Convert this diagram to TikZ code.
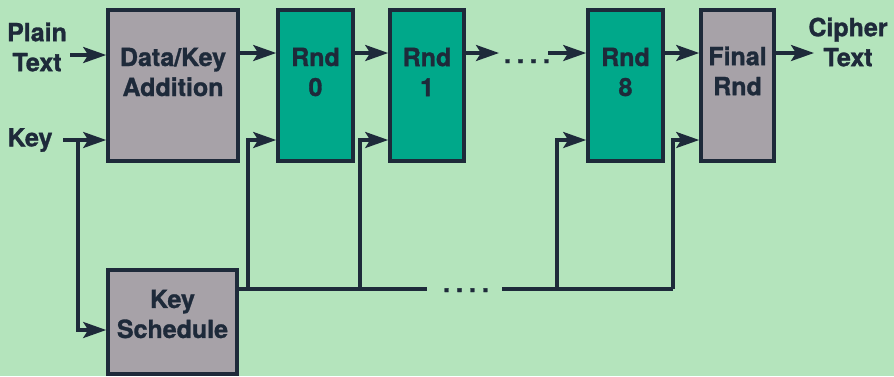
\documentclass[tikz,border=0pt]{standalone}
\usepackage{fontspec}
\setmainfont{TeX Gyre Heros}
\newfontfamily\heavyfont[FakeBold=1.2]{TeX Gyre Heros Bold}
\usetikzlibrary{arrows.meta}
\definecolor{bg}{HTML}{B4E4BC}
\definecolor{ink}{HTML}{1E2A3A}
\definecolor{greybox}{HTML}{A7A2A8}
\definecolor{tealbox}{HTML}{00A88A}
\newcommand{\spacedots}{.\hspace{6pt}.\hspace{6pt}.\hspace{6pt}.}
\begin{document}
\begin{tikzpicture}[x=1pt,y=-1pt,
  box/.style={draw=ink,line width=3.6pt,inner sep=0pt,minimum height=151pt},
  greyblk/.style={box,fill=greybox},
  roundblk/.style={box,fill=tealbox},
  lbl/.style={text=ink,font=\fontsize{25}{30}\selectfont\heavyfont,align=center,inner sep=0pt},
  wire/.style={draw=ink,line width=3.3pt},
  arr/.style={wire,-{Stealth[length=23pt,width=16pt,inset=5pt]}},
]
\fill[bg] (0,0) rectangle (894,376);
\useasboundingbox (0,0) rectangle (894,376);

% blocks of the cipher
\node[greyblk,minimum width=130pt] (dk) at (173,85.5) {};
\node[roundblk,minimum width=75pt] (r0) at (315.5,85.5) {};
\node[roundblk,minimum width=74pt] (r1) at (427,85.5) {};
\node[roundblk,minimum width=75pt] (r8) at (625.5,85.5) {};
\node[greyblk,minimum width=73pt] (fin) at (737.5,85.5) {};
\node[greyblk,minimum width=129pt,minimum height=104pt] (ks) at (172.5,322) {};

% block labels
\node[lbl] (dkt) at (173,72) {Data/Key\\Addition};
\node[lbl] (r0t) at (315.5,72) {Rnd\\0};
\node[lbl] (r1t) at (427,72) {Rnd\\1};
\node[lbl] (r8t) at (625.5,72) {Rnd\\8};
\node[lbl] (fint) at (737.5,71) {Final\\Rnd};
\node[lbl] (kst) at (172.5,314) {Key\\Schedule};

% inputs and output
\node[lbl] (pt) at (37,47) {Plain\\Text};
\node[lbl] (key) at (30,140) {Key};
\node[lbl] (ct) at (848,42) {Cipher\\Text};

% data path
\coordinate (ptin) at (70,55);
\draw[arr] (ptin) -- (dk.west |- ptin);
\draw[arr] ([yshift=32.5pt]dk.east) -- ([yshift=32.5pt]r0.west);
\draw[arr] ([yshift=32.5pt]r0.east) -- ([yshift=32.5pt]r1.west);
\coordinate (dl) at (499,53);
\coordinate (dr) at (548,53);
\node[lbl,anchor=base] (dots1) at (527,63) {\spacedots};
\draw[arr] ([yshift=32.5pt]r1.east) -- (dl);
\draw[arr] (dr) -- ([yshift=32.5pt]r8.west);
\draw[arr] ([yshift=32.5pt]r8.east) -- ([yshift=32.5pt]fin.west);
\coordinate (ctin) at (814,53);
\draw[arr] ([yshift=32.5pt]fin.east) -- (ctin);

% key path
\coordinate (kin) at (63,140);
\coordinate (ksplit) at (78,140);
\draw[arr] (kin) -- ([yshift=-54.5pt]dk.west);
\draw[arr] (ksplit) |- ([yshift=-8pt]ks.west);

% round key bus
\coordinate (bgl) at (427,289);
\coordinate (bgr) at (502,289);
\coordinate (b0) at (248,289);
\coordinate (b1) at (360,289);
\coordinate (b8) at (557,289);
\coordinate (bf) at (673,289);
\node[lbl,anchor=base] (dots2) at (466,292) {\spacedots};
\draw[wire] ([yshift=33pt]ks.east) -- (bgl);
\draw[wire] (bgr) -- (bf);
\draw[arr] (b0) |- ([yshift=-54.5pt]r0.west);
\draw[arr] (b1) |- ([yshift=-54.5pt]r1.west);
\draw[arr] (b8) |- ([yshift=-54.5pt]r8.west);
\draw[arr] (bf) |- ([yshift=-54.5pt]fin.west);
\end{tikzpicture}
\end{document}
